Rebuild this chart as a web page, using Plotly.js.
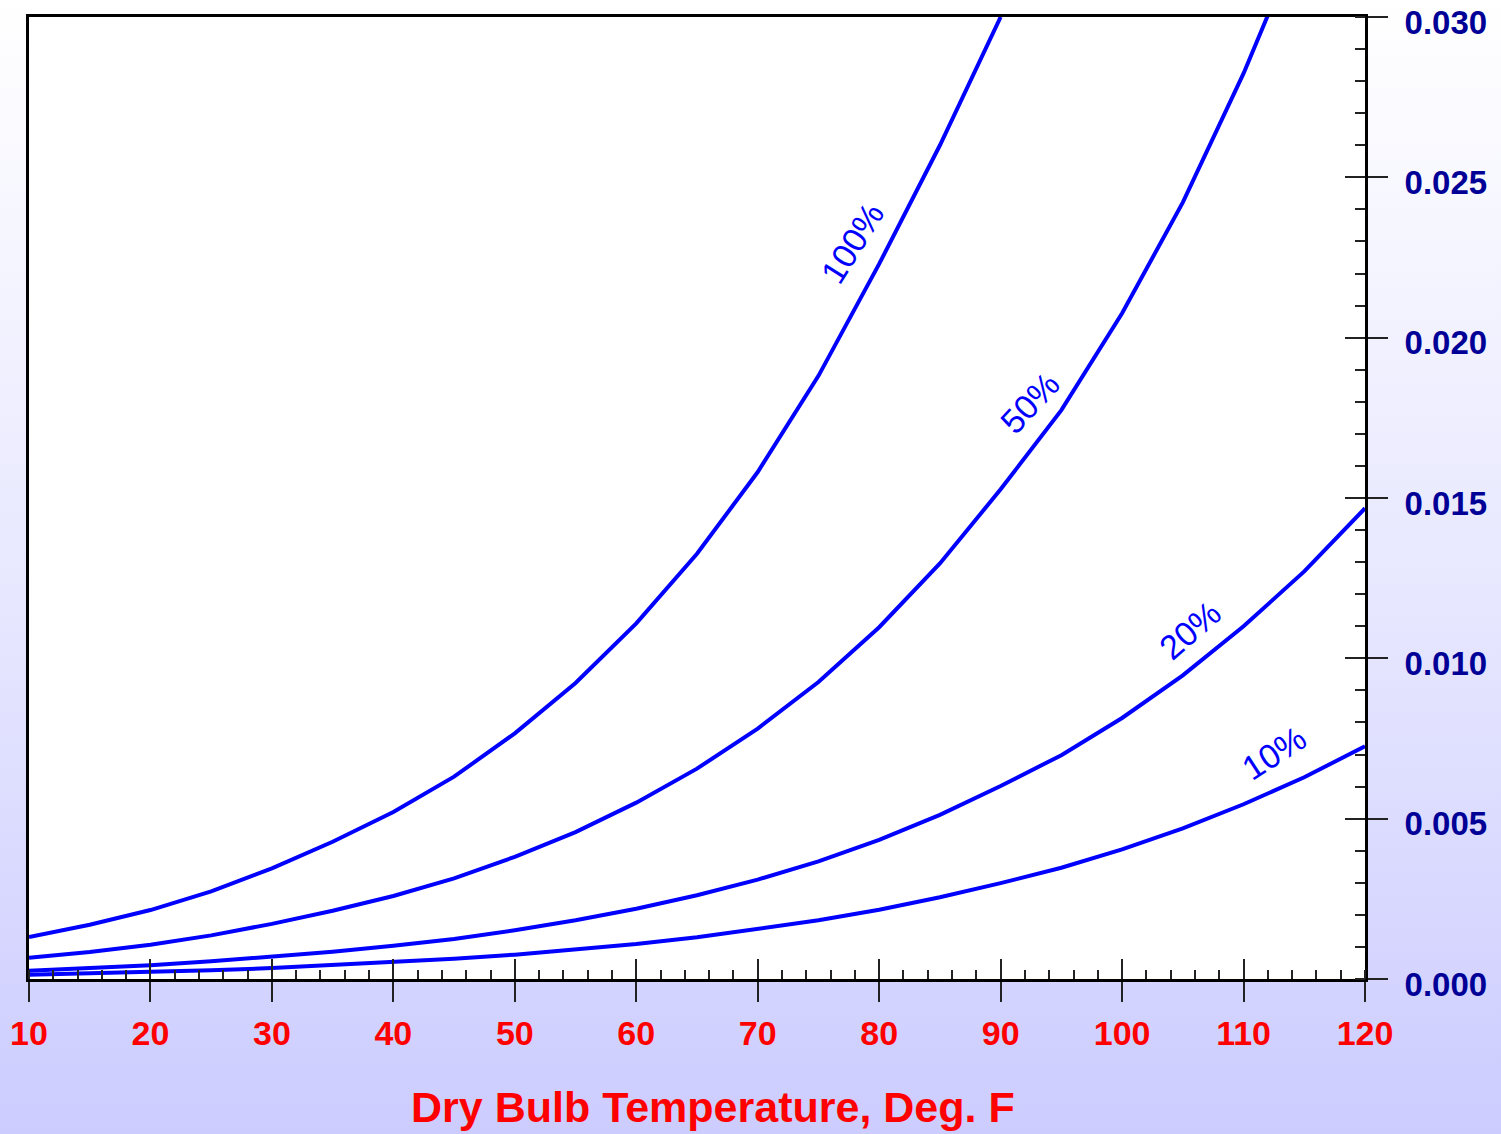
<!DOCTYPE html>
<html>
<head>
<meta charset="utf-8">
<script src="https://cdn.plot.ly/plotly-3.0.1.min.js"></script>
<style>
  html, body { margin: 0; padding: 0; }
  body { width: 1501px; height: 1134px; background: linear-gradient(to bottom, #ffffff 0%, #e6e6ff 55%, #ccccff 100%); }
  #chart { width: 1501px; height: 1134px; }
</style>
</head>
<body>
<div id="chart"></div>
<script>
// Dry bulb temperature, deg F
const temps = [10,15,20,25,30,35,40,45,50,55,60,65,70,75,80,85,90,95,100,105,110,115,120];
// Humidity ratio (lb water / lb dry air)
const rh100 = [0.00131,0.00169,0.00215,0.00273,0.00345,0.00428,0.00521,0.00631,0.00766,0.00923,0.01109,0.01326,0.01581,0.01881,0.02230,0.02600,0.03000];
const rh50  = [0.00066,0.00084,0.00107,0.00136,0.00172,0.00213,0.00259,0.00314,0.00381,0.00458,0.00550,0.00656,0.00781,0.00926,0.01097,0.01296,0.01527,0.01774,0.02076,0.02422,0.02824,0.03277];
const rh20  = [0.00026,0.00034,0.00043,0.00055,0.00069,0.00085,0.00104,0.00125,0.00152,0.00183,0.00219,0.00261,0.00310,0.00367,0.00434,0.00512,0.00602,0.00698,0.00814,0.00947,0.01100,0.01271,0.01468];
const rh10  = [0.00013,0.00017,0.00022,0.00027,0.00034,0.00043,0.00052,0.00063,0.00076,0.00091,0.00109,0.00130,0.00155,0.00183,0.00216,0.00255,0.00299,0.00347,0.00404,0.00470,0.00545,0.00629,0.00726];
const yTickVals = [0.000, 0.005, 0.010, 0.015, 0.020, 0.025, 0.030];
const yTickText = ['0.000','0.005','0.010','0.015','0.020','0.025','0.030'];
const curveLabels = ['100%','50%','20%','10%'];
const labelX = [77.8, 92.4, 105.6, 112.5];
const labelY = [0.02295, 0.01796, 0.01088, 0.00705];
const labelAngle = [-58, -47, -41, -33];
const xTitle = 'Dry Bulb Temperature, Deg. F';

const series = [rh100, rh50, rh20, rh10];
const lineColor = '#0000ff';
const traces = series.map((vals, i) => ({
  type: 'scatter', mode: 'lines',
  x: temps.slice(0, vals.length), y: vals,
  line: {color: lineColor, width: 4},
  name: curveLabels[i], showlegend: false, hoverinfo: 'x+y'
}));
// invisible helper trace to activate the overlay axes (inner major ticks)
traces.push({type:'scatter', mode:'lines', x:[10,120], y:[0,0], xaxis:'x2', yaxis:'y2',
  line:{color:'rgba(0,0,0,0)', width:0}, showlegend:false, hoverinfo:'skip'});

const font = 'Liberation Sans, Arial, sans-serif';
const annotations = curveLabels.map((t, i) => ({
  x: labelX[i], y: labelY[i], xref: 'x', yref: 'y', text: t, showarrow: false,
  textangle: labelAngle[i], font: {family: font, size: 34, color: lineColor},
  xanchor: 'center', yanchor: 'middle'
}));
annotations.push({
  x: 0.512, y: -0.133, xref: 'paper', yref: 'paper', text: '<b>' + xTitle + '</b>',
  showarrow: false, xanchor: 'center', yanchor: 'middle',
  font: {family: font, size: 43, color: '#ff0000'}
});

const yRange = [0, 0.0300001];
const layout = {
  width: 1501, height: 1134,
  margin: {l: 29, r: 136, t: 17, b: 155, pad: 0},
  paper_bgcolor: 'rgba(0,0,0,0)',
  plot_bgcolor: '#ffffff',
  showlegend: false,
  xaxis: {
    range: [10, 120], dtick: 10, tick0: 10,
    showgrid: false, zeroline: false,
    showline: true, linecolor: '#000000', linewidth: 3, mirror: true,
    ticks: 'outside', ticklen: 20, tickwidth: 2, tickcolor: '#222222',
    minor: {ticks: 'inside', dtick: 2, ticklen: 9, tickwidth: 2, tickcolor: '#222222', showgrid: false},
    ticklabelstandoff: 2, ticklabeloverflow: 'allow',
    tickfont: {family: font, size: 34, color: '#ff0000', weight: 'bold'}
  },
  xaxis2: {
    overlaying: 'x', matches: 'x', range: [10, 120], dtick: 10, tick0: 10, side: 'bottom',
    showgrid: false, zeroline: false, showline: false, showticklabels: false,
    ticks: 'inside', ticklen: 20, tickwidth: 2, tickcolor: '#222222'
  },
  yaxis: {
    side: 'right', range: yRange, tickmode: 'array', tickvals: yTickVals, ticktext: yTickText,
    showgrid: false, zeroline: false,
    showline: true, linecolor: '#000000', linewidth: 3, mirror: true,
    ticks: 'outside', ticklen: 20, tickwidth: 2, tickcolor: '#222222',
    minor: {ticks: 'inside', dtick: 0.001, tick0: 0, ticklen: 10, tickwidth: 2, tickcolor: '#222222', showgrid: false},
    ticklabelstandoff: 10, ticklabelshift: 5, ticklabeloverflow: 'allow',
    tickfont: {family: font, size: 33, color: '#000096', weight: 'bold'}
  },
  yaxis2: {
    overlaying: 'y', range: yRange, tickmode: 'array', tickvals: yTickVals, side: 'right',
    showgrid: false, zeroline: false, showline: false, showticklabels: false,
    ticks: 'inside', ticklen: 20, tickwidth: 2, tickcolor: '#222222'
  },
  annotations: annotations
};

Plotly.newPlot('chart', traces, layout, {staticPlot: true, displayModeBar: false});
</script>
</body>
</html>
